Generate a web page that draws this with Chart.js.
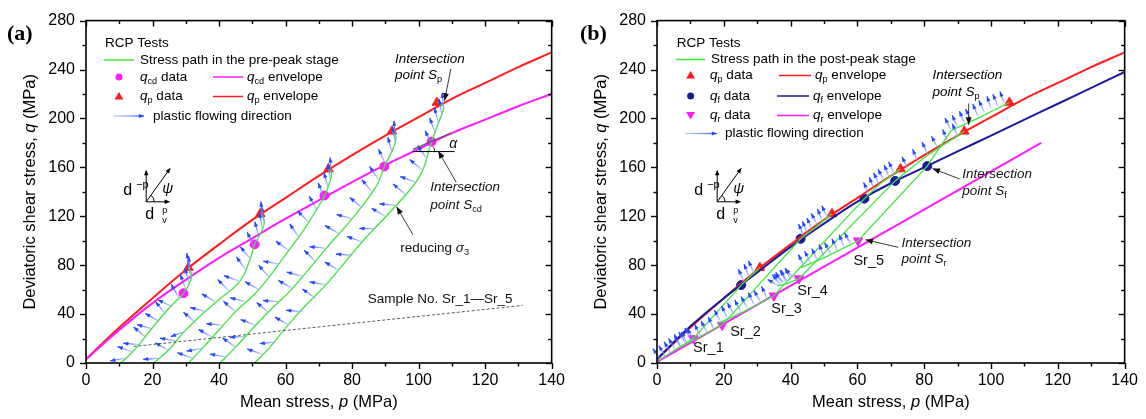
<!DOCTYPE html>
<html>
<head>
<meta charset="utf-8">
<script src="https://cdn.jsdelivr.net/npm/chart.js@4.4.1/dist/chart.umd.min.js"></script>
<style>
  html, body { margin: 0; padding: 0; background: #fff; }
  #wrap { position: relative; width: 1146px; height: 419px; }
  .panel { position: absolute; top: 0; width: 573px; height: 419px; }
</style>
</head>
<body>
<div id="wrap">
  <div class="panel" style="left:0"><canvas id="chartA" width="573" height="419"></canvas></div>
  <div class="panel" style="left:573px"><canvas id="chartB" width="573" height="419"></canvas></div>
</div>
<script>
// ---- data (MPa) ----
const envP = [0, 10, 20, 30, 40, 50, 60, 70, 80, 90, 100, 110, 120, 130, 140];
const qpEnvelope = [3, 29, 53, 76, 97, 117, 135, 153, 170, 186, 201, 216, 229, 242, 254];
const qcdEnvelope = [3, 27, 49, 68, 86, 102, 118, 133, 148, 162, 175, 188, 199, 210, 220];
const qfEnvelope = [3, 30, 53, 74, 95, 114, 132, 147, 160, 173, 186, 199, 212, 225, 238];
const qrEnvP = [0, 115];
const qrEnvelope = [1, 180];

const qpDataP = [30.8, 52.4, 72.9, 92.0, 105.5];
const qpDataQ = [78, 122, 158.6, 189.5, 213];
const qcdDataP = [29.3, 50.7, 71.7, 89.7, 103.9];
const qcdDataQ = [57, 97, 137, 160.7, 181];
const qfDataP = [25.2, 43.0, 62.1, 71.3, 80.9];
const qfDataQ = [63.7, 101.6, 134.4, 148.9, 161];
const qrDataP = [10.9, 19.5, 35.0, 42.5, 60.2];
const qrDataQ = [20, 31, 55, 69, 100];

// pre-peak stress paths, Sr_1 .. Sr_5 : [p, q]
const prePath1 = [[10.5,0],[15,12],[20,29],[25,45],[29.3,57],[31.2,66],[31.8,72],[30.8,78]];
const prePath2 = [[20.3,0],[25,11],[29,24],[35,40],[40,52],[46.3,67],[49.5,86],[50.7,97],[52.8,107.5],[53.6,116],[52.4,122]];
const prePath3 = [[30.8,0],[35,12],[40,27],[45,42],[50.6,56],[55,70],[59.3,86],[65.8,110],[70.1,129],[71.7,136],[73.3,148],[73.8,155],[72.9,158.6]];
const prePath4 = [[40.3,0],[45,13],[50.6,29.6],[56,45],[61.4,59],[72.3,94],[80.9,121],[87.4,145],[89.7,160.7],[92.3,175],[93.2,185],[92,189.5]];
const prePath5 = [[50.6,0],[55,12],[60.3,29.6],[66,47],[72.3,64.5],[83.1,99.4],[92.8,127.6],[100.4,153],[103.9,181],[106.5,200],[107.5,210],[105.5,213]];
const prePaths = [prePath1, prePath2, prePath3, prePath4, prePath5];

// post-peak stress paths: peak -> q_f -> q_r -> residual stage
const postPath1 = [[30.8,78],[28,71],[25.2,63.7],[10.9,20],[5,10],[0.5,2]];
const postPath2 = [[52.4,122],[47.5,111],[43,101.6],[19.5,31],[12,20],[6,12]];
const postPath3 = [[72.9,158.6],[67,147],[62.1,134.4],[35,55],[26,42],[18,32]];
const postPath4 = [[92,189.5],[80,168],[71.3,148.9],[42.5,69],[39,65],[36,63]];
const postPath5 = [[105.5,213],[96,200],[88,190],[80.9,161],[60.2,100],[50,86],[43,78]];
const postPaths = [postPath1, postPath2, postPath3, postPath4, postPath5];

// plastic flowing direction: [p, q, angle in degrees]
const flowA = [
  [12,4,190],[14,9,160],[16,15,175],[18,21,140],[20,28,165],[22,34,150],[24,40,130],[26,46,155],[28,53,120],[30,60,110],[31,65,105],[31.5,70,100],[31.3,74,95],[31,77,98],
  [22,4,185],[25,10,150],[27,18,170],[30,26,200],[33,33,140],[36,42,165],[39,50,150],[43,59,135],[46,67,160],[48,76,125],[49.5,85,130],[50.5,95,115],[52,103,105],[53,110,100],[53.5,115,98],[53,119,95],
  [32,4,160],[35,12,190],[38,21,150],[41,31,175],[45,42,140],[48,50,165],[52,60,150],[55,70,130],[58,81,170],[61,92,145],[64,103,125],[67,115,135],[69.5,125,120],[71.5,135,110],[72.8,143,105],[73.5,150,100],[73.8,155,95],
  [42,5,170],[45,13,145],[48,22,185],[51,31,160],[55,41,140],[58,50,175],[62,61,150],[65,71,165],[69,83,135],[72,94,175],[76,106,150],[80,118,165],[83,127,140],[86,140,130],[88,150,125],[90,163,115],[92,172,105],[93,180,100],[93,185,95],
  [53,7,160],[57,17,185],[61,31,150],[65,42,175],[69,53,145],[72,64,170],[76,76,150],[80,88,175],[83,99,160],[87,110,180],[90,120,150],[93,129,175],[96,138,140],[99,148,160],[101,158,140],[102.5,167,125],[104,178,115],[105,188,110],[106,196,105],[107,203,100],[107.5,208,95]
];
const flowB = [
  [29,74,115],[27.5,71,112],[26,67,115],
  [1,3,125],[2.5,5,120],[4,8,118],[5.5,11,122],[7,14,118],[8.5,16,120],[10,19,115],
  [51,119,115],[49.5,116,112],[48,113,118],[46.5,109,115],[45,106,112],[44,104,115],
  [7,13,118],[9,16,115],[11,19,120],[13,22,116],[15,25,118],[17,28,115],
  [71,155,115],[69.5,152,112],[68,149,118],[66.5,146,115],[65,142,112],[63.5,138,115],
  [19,34,118],[21,37,115],[23,40,120],[25,42,116],[27,45,118],[29,48,115],[31,50,120],[33,53,116],
  [90,186,115],[87,181,112],[84,176,118],[81,171,115],[78,165,112],[75,159,115],
  [36.5,63,150],[37,64,130],[37.5,65,120],[38,66,140],[38.5,66,110],[39,67,125],[40,68,115],[41,69,130],
  [104,212,110],[102,210,112],[100,208,108],[98,205,115],[96,202,112],[94,198,115],[92,196,112],[90,193,115],[88,191,118],
  [44,79,115],[46,82,118],[48,84,115],[50,87,112],[52,89,118],[54,92,115],[56,95,112],[58,97,118]
];

const samplePathDash = { p: [14.3, 131.3], q: [13.5, 47.1] };

// ---- helpers ----
const FONT = '"Liberation Sans", Arial, sans-serif';
const GREEN = '#3ee63e', RED = '#ff1c1c', MAGENTA = '#ff1aff', NAVY = '#1a1a9c';

function fontFor(st, size) {
  const s = (st.includes('s') || st.includes('S')) ? size * 0.68 : size;
  return (st.includes('i') ? 'italic ' : '') + s.toFixed(1) + 'px ' + FONT;
}
function rich(ctx, x, y, parts, size, align) {
  ctx.textBaseline = 'middle';
  ctx.textAlign = 'left';
  let w = 0;
  for (const [t, st] of parts) { ctx.font = fontFor(st, size); w += ctx.measureText(t).width; }
  let cx = align === 'center' ? x - w / 2 : align === 'right' ? x - w : x;
  for (const [t, st] of parts) {
    ctx.font = fontFor(st, size);
    const dy = st.includes('s') ? size * 0.32 : st.includes('S') ? -size * 0.35 : 0;
    ctx.fillText(t, cx, y + dy);
    cx += ctx.measureText(t).width;
  }
  return w;
}
function seg(ctx, x1, y1, x2, y2) {
  ctx.beginPath(); ctx.moveTo(x1, y1); ctx.lineTo(x2, y2); ctx.stroke();
}
function head(ctx, x1, y1, x2, y2, size, color) {
  const a = Math.atan2(y2 - y1, x2 - x1);
  ctx.fillStyle = color;
  ctx.beginPath();
  ctx.moveTo(x2, y2);
  ctx.lineTo(x2 - size * Math.cos(a - 0.38), y2 - size * Math.sin(a - 0.38));
  ctx.lineTo(x2 - size * Math.cos(a + 0.38), y2 - size * Math.sin(a + 0.38));
  ctx.closePath(); ctx.fill();
}
function blackArrow(ctx, x1, y1, x2, y2) {
  ctx.strokeStyle = '#222'; ctx.lineWidth = 0.9;
  seg(ctx, x1, y1, x2, y2);
  head(ctx, x1, y1, x2, y2, 8, '#111');
}
function flowArrow(ctx, x, y, angDeg, len) {
  const a = angDeg * Math.PI / 180;
  const x2 = x + len * Math.cos(a), y2 = y - len * Math.sin(a);
  const g = ctx.createLinearGradient(x, y, x2, y2);
  g.addColorStop(0, 'rgba(150,175,255,0.55)');
  g.addColorStop(1, 'rgba(40,80,255,1)');
  ctx.strokeStyle = g; ctx.lineWidth = 1.3;
  seg(ctx, x, y, x2, y2);
  head(ctx, x, y, x2, y2, 5.5, '#2346ff');
}

const pt = (arr) => arr.map(([p, q]) => ({ x: p, y: q }));
const zip = (ps, qs) => ps.map((p, i) => ({ x: p, y: qs[i] }));

// axis frame with ticks, axis titles
const framePlugin = {
  id: 'frame',
  afterDraw(chart) {
    const { ctx, chartArea: a, scales: { x, y } } = chart;
    ctx.save();
    ctx.strokeStyle = '#000';
    ctx.lineWidth = 1.6;
    ctx.strokeRect(a.left, a.top, a.right - a.left, a.bottom - a.top);
    ctx.lineWidth = 1.4;
    for (let v = 0; v <= 140; v += 10) {
      const px = Math.round(x.getPixelForValue(v)) + 0.5, len = v % 20 ? 3.5 : 6;
      seg(ctx, px, a.bottom, px, a.bottom + len);
      seg(ctx, px, a.top, px, a.top + len);
    }
    for (let v = 0; v <= 280; v += 20) {
      const py = Math.round(y.getPixelForValue(v)) + 0.5, len = v % 40 ? 3.5 : 6;
      seg(ctx, a.left - len, py, a.left, py);
      seg(ctx, a.right - len, py, a.right, py);
    }
    ctx.fillStyle = '#000';
    rich(ctx, (a.left + a.right) / 2, 402, [['Mean stress, ', ''], ['p', 'i'], [' (MPa)', '']], 16.5, 'center');
    ctx.translate(a.left - 56, (a.top + a.bottom) / 2);
    ctx.rotate(-Math.PI / 2);
    rich(ctx, 0, 0, [['Deviatoric shear stress, ', ''], ['q', 'i'], [' (MPa)', '']], 16.5, 'center');
    ctx.restore();
  }
};

function flowPlugin(list, len) {
  return {
    id: 'flow',
    afterDatasetsDraw(chart) {
      const { ctx, scales: { x, y } } = chart;
      ctx.save();
      for (const [p, q, ang] of list) flowArrow(ctx, x.getPixelForValue(p), y.getPixelForValue(q), ang, len);
      ctx.restore();
    }
  };
}

function drawIcon(ctx, ox, oy) {
  ctx.strokeStyle = '#000'; ctx.lineWidth = 1;
  seg(ctx, ox, oy, ox + 22, oy); head(ctx, ox, oy, ox + 24, oy, 6, '#000');
  seg(ctx, ox, oy, ox, oy - 30); head(ctx, ox, oy, ox, oy - 32, 6, '#000');
  seg(ctx, ox, oy, ox + 23, oy - 32); head(ctx, ox, oy, ox + 24.4, oy - 34, 6, '#000');
  ctx.beginPath(); ctx.arc(ox, oy, 8, -0.95, 0); ctx.stroke();
  ctx.fillStyle = '#000';
  rich(ctx, ox - 23, oy - 11, [['d', '']], 16);
  rich(ctx, ox - 10, oy - 17, [['\u2212p', '']], 11);
  rich(ctx, ox + 16, oy - 13, [['\u03c8', 'i']], 15);
  rich(ctx, ox - 1, oy + 13, [['d', '']], 16);
  rich(ctx, ox + 16, oy + 9, [['p', '']], 9);
  rich(ctx, ox + 16, oy + 19, [['v', '']], 9);
}

const legendA = {
  id: 'legendA',
  afterDraw(chart) {
    const { ctx, scales: { x, y } } = chart;
    const X = (p) => x.getPixelForValue(p), Y = (q) => y.getPixelForValue(q);
    ctx.save();
    ctx.fillStyle = '#000';
    ctx.font = 'bold 22px "Liberation Serif", "Times New Roman", serif';
    ctx.textBaseline = 'middle'; ctx.textAlign = 'left';
    ctx.fillText('(a)', 7, 34);
    const S = 13.5;
    ctx.fillStyle = '#000';
    rich(ctx, 105, 43, [['RCP Tests', '']], S);
    ctx.strokeStyle = GREEN; ctx.lineWidth = 1.5; seg(ctx, 104, 60, 134, 60);
    rich(ctx, 140, 60, [['Stress path in the pre-peak stage', '']], S);
    ctx.fillStyle = MAGENTA; ctx.beginPath(); ctx.arc(119, 77, 3.5, 0, 7); ctx.fill();
    ctx.fillStyle = '#000';
    rich(ctx, 140, 77, [['q', 'i'], ['cd', 's'], [' data', '']], S);
    ctx.strokeStyle = MAGENTA; ctx.lineWidth = 1.5; seg(ctx, 213, 77, 243, 77);
    rich(ctx, 247, 77, [['q', 'i'], ['cd', 's'], [' envelope', '']], S);
    ctx.fillStyle = RED; ctx.beginPath(); ctx.moveTo(119, 92); ctx.lineTo(123.5, 99.5); ctx.lineTo(114.5, 99.5); ctx.fill();
    ctx.fillStyle = '#000';
    rich(ctx, 140, 96.5, [['q', 'i'], ['p', 's'], [' data', '']], S);
    ctx.strokeStyle = RED; ctx.lineWidth = 1.5; seg(ctx, 213, 96.5, 243, 96.5);
    rich(ctx, 247, 96.5, [['q', 'i'], ['p', 's'], [' envelope', '']], S);
    flowArrow(ctx, 113, 116, 0, 31);
    ctx.fillStyle = '#000';
    rich(ctx, 153, 116, [['plastic flowing direction', '']], S);

    drawIcon(ctx, 146.2, 201.8);

    // annotations
    ctx.fillStyle = '#000';
    rich(ctx, X(92.9), Y(248.6), [['Intersection', 'i']], S);
    rich(ctx, X(92.9), Y(235.1), [['point ', 'i'], ['S', 'i'], ['p', 's']], S);
    blackArrow(ctx, X(109.7), Y(240.5), X(107.8), Y(214.5));
    ctx.strokeStyle = '#000'; ctx.lineWidth = 1;
    seg(ctx, X(98.3), Y(172.9), X(110.8), Y(172.9));
    ctx.strokeStyle = '#555'; ctx.lineWidth = 1.2;
    seg(ctx, X(98.3), Y(174.7), X(109.7), Y(188.1));
    ctx.strokeStyle = '#000'; ctx.lineWidth = 0.8;
    ctx.beginPath(); ctx.arc(X(102.8), Y(172.9), 7, -0.75, 0); ctx.stroke();
    rich(ctx, X(109.2), Y(179), [['\u03b1', 'i']], 14);
    rich(ctx, X(103.5), Y(143.8), [['Intersection', 'i']], S);
    rich(ctx, X(103.5), Y(129), [['point ', 'i'], ['S', 'i'], ['cd', 's']], S);
    blackArrow(ctx, X(111.3), Y(147.8), X(105.9), Y(173.4));
    rich(ctx, X(94.5), Y(94.1), [['reducing ', ''], ['\u03c3', 'i'], ['3', 's']], S);
    blackArrow(ctx, X(98.3), Y(104.9), X(93.4), Y(127.7));
    rich(ctx, X(84.7), Y(52.4), [['Sample No. Sr_1\u2014Sr_5', '']], S);
    ctx.strokeStyle = '#333'; ctx.lineWidth = 0.8; ctx.setLineDash([3, 2]);
    seg(ctx, X(samplePathDash.p[0]), Y(samplePathDash.q[0]), X(samplePathDash.p[1]), Y(samplePathDash.q[1]));
    ctx.restore();
  }
};

const legendB = {
  id: 'legendB',
  afterDraw(chart) {
    const { ctx, scales: { x, y } } = chart;
    const X = (p) => x.getPixelForValue(p), Y = (q) => y.getPixelForValue(q);
    ctx.save();
    ctx.fillStyle = '#000';
    ctx.font = 'bold 22px "Liberation Serif", "Times New Roman", serif';
    ctx.textBaseline = 'middle'; ctx.textAlign = 'left';
    ctx.fillText('(b)', 7, 34);
    const S = 13.5;
    rich(ctx, 103.7, 43, [['RCP Tests', '']], S);
    ctx.strokeStyle = GREEN; ctx.lineWidth = 1.5; seg(ctx, 103, 59.5, 132, 59.5);
    rich(ctx, 138, 59.5, [['Stress path in the post-peak stage', '']], S);
    ctx.fillStyle = RED; ctx.beginPath(); ctx.moveTo(117.6, 71); ctx.lineTo(122.1, 78.5); ctx.lineTo(113.1, 78.5); ctx.fill();
    ctx.fillStyle = '#000';
    rich(ctx, 137, 75.5, [['q', 'i'], ['p', 's'], [' data', '']], S);
    ctx.strokeStyle = RED; seg(ctx, 206, 75.5, 238, 75.5);
    rich(ctx, 242, 75.5, [['q', 'i'], ['p', 's'], [' envelope', '']], S);
    ctx.fillStyle = NAVY; ctx.beginPath(); ctx.arc(117.6, 96, 3.5, 0, 7); ctx.fill();
    ctx.fillStyle = '#000';
    rich(ctx, 137, 96, [['q', 'i'], ['f', 's'], [' data', '']], S);
    ctx.strokeStyle = NAVY; seg(ctx, 204, 96, 236, 96);
    rich(ctx, 240, 96, [['q', 'i'], ['f', 's'], [' envelope', '']], S);
    ctx.fillStyle = MAGENTA; ctx.beginPath(); ctx.moveTo(117.6, 119.5); ctx.lineTo(122.1, 112); ctx.lineTo(113.1, 112); ctx.fill();
    ctx.fillStyle = '#000';
    rich(ctx, 137, 115.5, [['q', 'i'], ['r', 's'], [' data', '']], S);
    ctx.strokeStyle = MAGENTA; seg(ctx, 204, 115.5, 236, 115.5);
    rich(ctx, 240, 115.5, [['q', 'i'], ['r', 's'], [' envelope', '']], S);
    flowArrow(ctx, 112, 133.5, 0, 32);
    ctx.fillStyle = '#000';
    rich(ctx, 152, 133.5, [['plastic flowing direction', '']], S);

    drawIcon(ctx, 144.2, 201.8);

    rich(ctx, X(82.5), Y(235.1), [['Intersection', 'i']], S);
    rich(ctx, X(82.5), Y(221.7), [['point ', 'i'], ['S', 'i'], ['p', 's']], S);
    blackArrow(ctx, X(93.3), Y(212.3), X(93.3), Y(194.8));
    rich(ctx, X(91.4), Y(154), [['Intersection', 'i']], S);
    rich(ctx, X(91.4), Y(140.2), [['point ', 'i'], ['S', 'i'], ['f', 's']], S);
    blackArrow(ctx, X(90.6), Y(150.5), X(82.5), Y(159));
    rich(ctx, X(73.2), Y(98), [['Intersection', 'i']], S);
    rich(ctx, X(73.2), Y(84.6), [['point ', 'i'], ['S', 'i'], ['r', 's']], S);
    blackArrow(ctx, X(72.2), Y(94.6), X(62.4), Y(100.8));
    const labels = [['Sr_1', 10.8, 12.2], ['Sr_2', 21.9, 25.6], ['Sr_3', 34.2, 44.3], ['Sr_4', 42, 58.6], ['Sr_5', 58.8, 83.8]];
    for (const [t, p, q] of labels) rich(ctx, X(p), Y(q), [[t, '']], 14.5);
    ctx.restore();
  }
};

function lineSet(data, color, width) {
  return { type: 'line', data, borderColor: color, borderWidth: width, pointRadius: 0, fill: false, tension: 0.4 };
}
function markSet(data, color, style, radius, rotation) {
  return { type: 'scatter', data, backgroundColor: color, borderColor: color, pointStyle: style,
           pointRadius: radius, rotation: rotation || 0, showLine: false };
}

function makeOptions(leftW, rightPad) {
  return {
    responsive: false, animation: false, devicePixelRatio: 1,
    layout: { padding: { left: 0, right: rightPad, top: 18, bottom: 0 } },
    plugins: { legend: { display: false }, tooltip: { enabled: false } },
    scales: {
      x: {
        type: 'linear', min: 0, max: 140,
        afterFit: (s) => { s.height = 56; },
        grid: { display: false, drawTicks: false }, border: { display: false },
        ticks: { stepSize: 20, padding: 8, color: '#000', font: { size: 16, family: FONT } }
      },
      y: {
        type: 'linear', min: 0, max: 280,
        afterFit: (s) => { s.width = leftW; },
        grid: { display: false, drawTicks: false }, border: { display: false },
        ticks: { stepSize: 40, padding: 11, color: '#000', font: { size: 16, family: FONT } }
      }
    }
  };
}

new Chart(document.getElementById('chartA'), {
  type: 'line',
  data: {
    datasets: [
      ...prePaths.map((path) => lineSet(pt(path), GREEN, 1.3)),
      lineSet(zip(envP, qcdEnvelope), MAGENTA, 2),
      lineSet(zip(envP, qpEnvelope), RED, 2),
      markSet(zip(qcdDataP, qcdDataQ), MAGENTA, 'circle', 4.5),
      markSet(zip(qpDataP, qpDataQ), RED, 'triangle', 5.5)
    ]
  },
  options: makeOptions(86, 16),
  plugins: [flowPlugin(flowA, 16), framePlugin, legendA]
});

new Chart(document.getElementById('chartB'), {
  type: 'line',
  data: {
    datasets: [
      ...postPaths.map((path) => ({ ...lineSet(pt(path), GREEN, 1.3), tension: 0 })),
      lineSet(zip(qrEnvP, qrEnvelope), MAGENTA, 2),
      lineSet(zip(envP, qfEnvelope), NAVY, 2),
      lineSet(zip(envP, qpEnvelope), RED, 2),
      markSet(zip(qfDataP, qfDataQ), NAVY, 'circle', 4.5),
      markSet(zip(qpDataP, qpDataQ), RED, 'triangle', 5.5),
      markSet(zip(qrDataP, qrDataQ), MAGENTA, 'triangle', 5.5, 180)
    ]
  },
  options: makeOptions(84, 18),
  plugins: [flowPlugin(flowB, 13), framePlugin, legendB]
});
</script>
</body>
</html>
